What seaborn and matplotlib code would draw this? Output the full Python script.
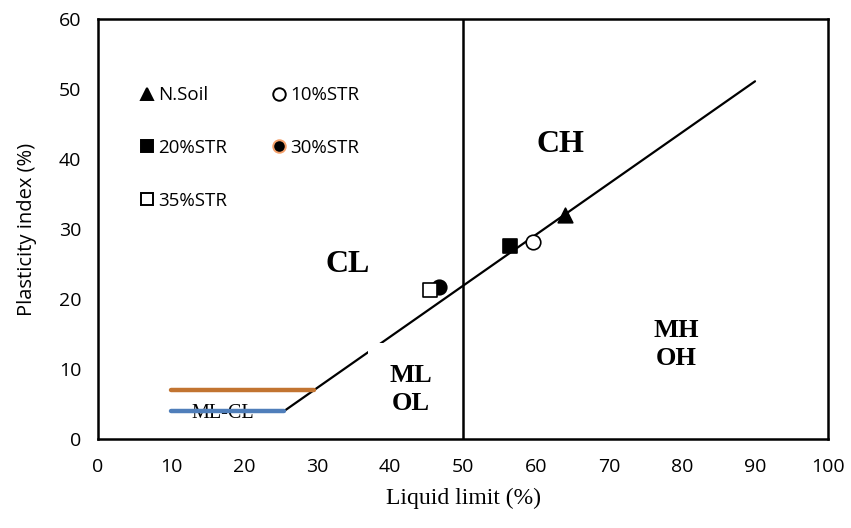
import matplotlib
matplotlib.use("Agg")
import matplotlib.pyplot as plt
from matplotlib.lines import Line2D
import seaborn as sns
import pandas as pd

# Soil samples on the plasticity chart
samples = ["N.Soil", "10%STR", "20%STR", "30%STR", "35%STR"]
liquid_limit = [64.0, 59.6, 56.4, 46.7, 45.5]
plasticity_index = [32.0, 28.2, 27.5, 21.7, 21.3]

# Casagrande chart boundaries
a_line_ll = [25.5, 90.0]
a_line_pi = [4.0, 51.1]
cl_ml_ll = [10.0, 29.6]
cl_ml_pi = [7.0, 7.0]
ml_cl_ll = [10.0, 25.5]
ml_cl_pi = [4.0, 4.0]
b_line_ll = 50

x_ticks = [0, 10, 20, 30, 40, 50, 60, 70, 80, 90, 100]
y_ticks = [0, 10, 20, 30, 40, 50, 60]

sns.set_theme(style="white")
plt.rcParams["font.family"] = ["Open Sans", "DejaVu Sans"]
plt.rcParams.update({"text.color": "black", "axes.labelcolor": "black",
                     "xtick.color": "black", "ytick.color": "black"})

fig = plt.figure(figsize=(8.51, 5.28), dpi=100)
ax = fig.add_axes([0.1152, 0.1686, 0.973 - 0.1152, 0.964 - 0.1686])

# boundary lines
sns.lineplot(x=ml_cl_ll, y=ml_cl_pi, ax=ax, color="#4F7EBA", lw=3.2,
             solid_capstyle="round", zorder=3)
sns.lineplot(x=cl_ml_ll, y=cl_ml_pi, ax=ax, color="#C27431", lw=3.2,
             solid_capstyle="round", zorder=3)
sns.lineplot(x=a_line_ll, y=a_line_pi, ax=ax, color="black", lw=1.6, zorder=2)
ax.axvline(b_line_ll, color="black", lw=1.8, zorder=2)

# samples
df = pd.DataFrame({"LL": liquid_limit, "PI": plasticity_index, "sample": samples})
styles = {
    "N.Soil": dict(marker="^", facecolor="black", edgecolor="black"),
    "10%STR": dict(marker="o", facecolor="white", edgecolor="black"),
    "20%STR": dict(marker="s", facecolor="black", edgecolor="black"),
    "30%STR": dict(marker="o", facecolor="black", edgecolor="black"),
    "35%STR": dict(marker="s", facecolor="white", edgecolor="black"),
}
for name, st in styles.items():
    sub = df[df["sample"] == name]
    sns.scatterplot(data=sub, x="LL", y="PI", ax=ax, marker=st["marker"],
                    color=st["facecolor"], edgecolor=st["edgecolor"],
                    linewidth=1.2, s=110, zorder=5, legend=False)

# zone labels
serif = ["Times New Roman", "Liberation Serif", "DejaVu Serif"]
ax.text(34.2, 24.9, "CL", fontsize=23, fontweight="bold", family=serif,
        ha="center", va="center", zorder=4)
ax.text(63.3, 42.0, "CH", fontsize=23, fontweight="bold", family=serif,
        ha="center", va="center", zorder=4)
ax.text(42.8, 7.1, "ML\nOL", fontsize=19, fontweight="bold", family=serif,
        ha="center", va="center", linespacing=1.25, zorder=4,
        bbox=dict(boxstyle="square,pad=0.8", fc="white", ec="none"))
ax.text(79.2, 13.5, "MH\nOH", fontsize=19, fontweight="bold", family=serif,
        ha="center", va="center", linespacing=1.25, zorder=4)
ax.text(17.1, 3.7, "ML-CL", fontsize=14.5, family=serif,
        ha="center", va="center", zorder=2)

# legend
def handle(name, edge="black"):
    st = styles[name]
    return Line2D([], [], ls="none", marker=st["marker"], markersize=9,
                  markerfacecolor=st["facecolor"], markeredgecolor=edge,
                  markeredgewidth=1.4)

order = ["N.Soil", "20%STR", "35%STR", "10%STR", "30%STR"]
handles = [handle(n, "#F4A06A" if n == "30%STR" else "black") for n in order]
ax.legend(handles, order, ncol=2, frameon=False, fontsize=13.5,
          loc="upper left", bbox_to_anchor=(0.045, 0.858),
          handletextpad=0.15, handlelength=0.9, columnspacing=2.3,
          labelspacing=1.86, borderaxespad=0)

ax.set_xlim(0, 100)
ax.set_ylim(0, 60)
ax.set_xticks(x_ticks)
ax.set_yticks(y_ticks)
ax.tick_params(axis="both", labelsize=14, length=0, pad=14)
ax.tick_params(axis="y", pad=12)
for sp in ax.spines.values():
    sp.set_color("black")
    sp.set_linewidth(1.8)

ax.set_xlabel("Liquid limit (%)", fontsize=17, family=serif, labelpad=8)
ax.set_ylabel("Plasticity index (%)", fontsize=14.5, labelpad=16)

fig.savefig("out.png", dpi=100)
